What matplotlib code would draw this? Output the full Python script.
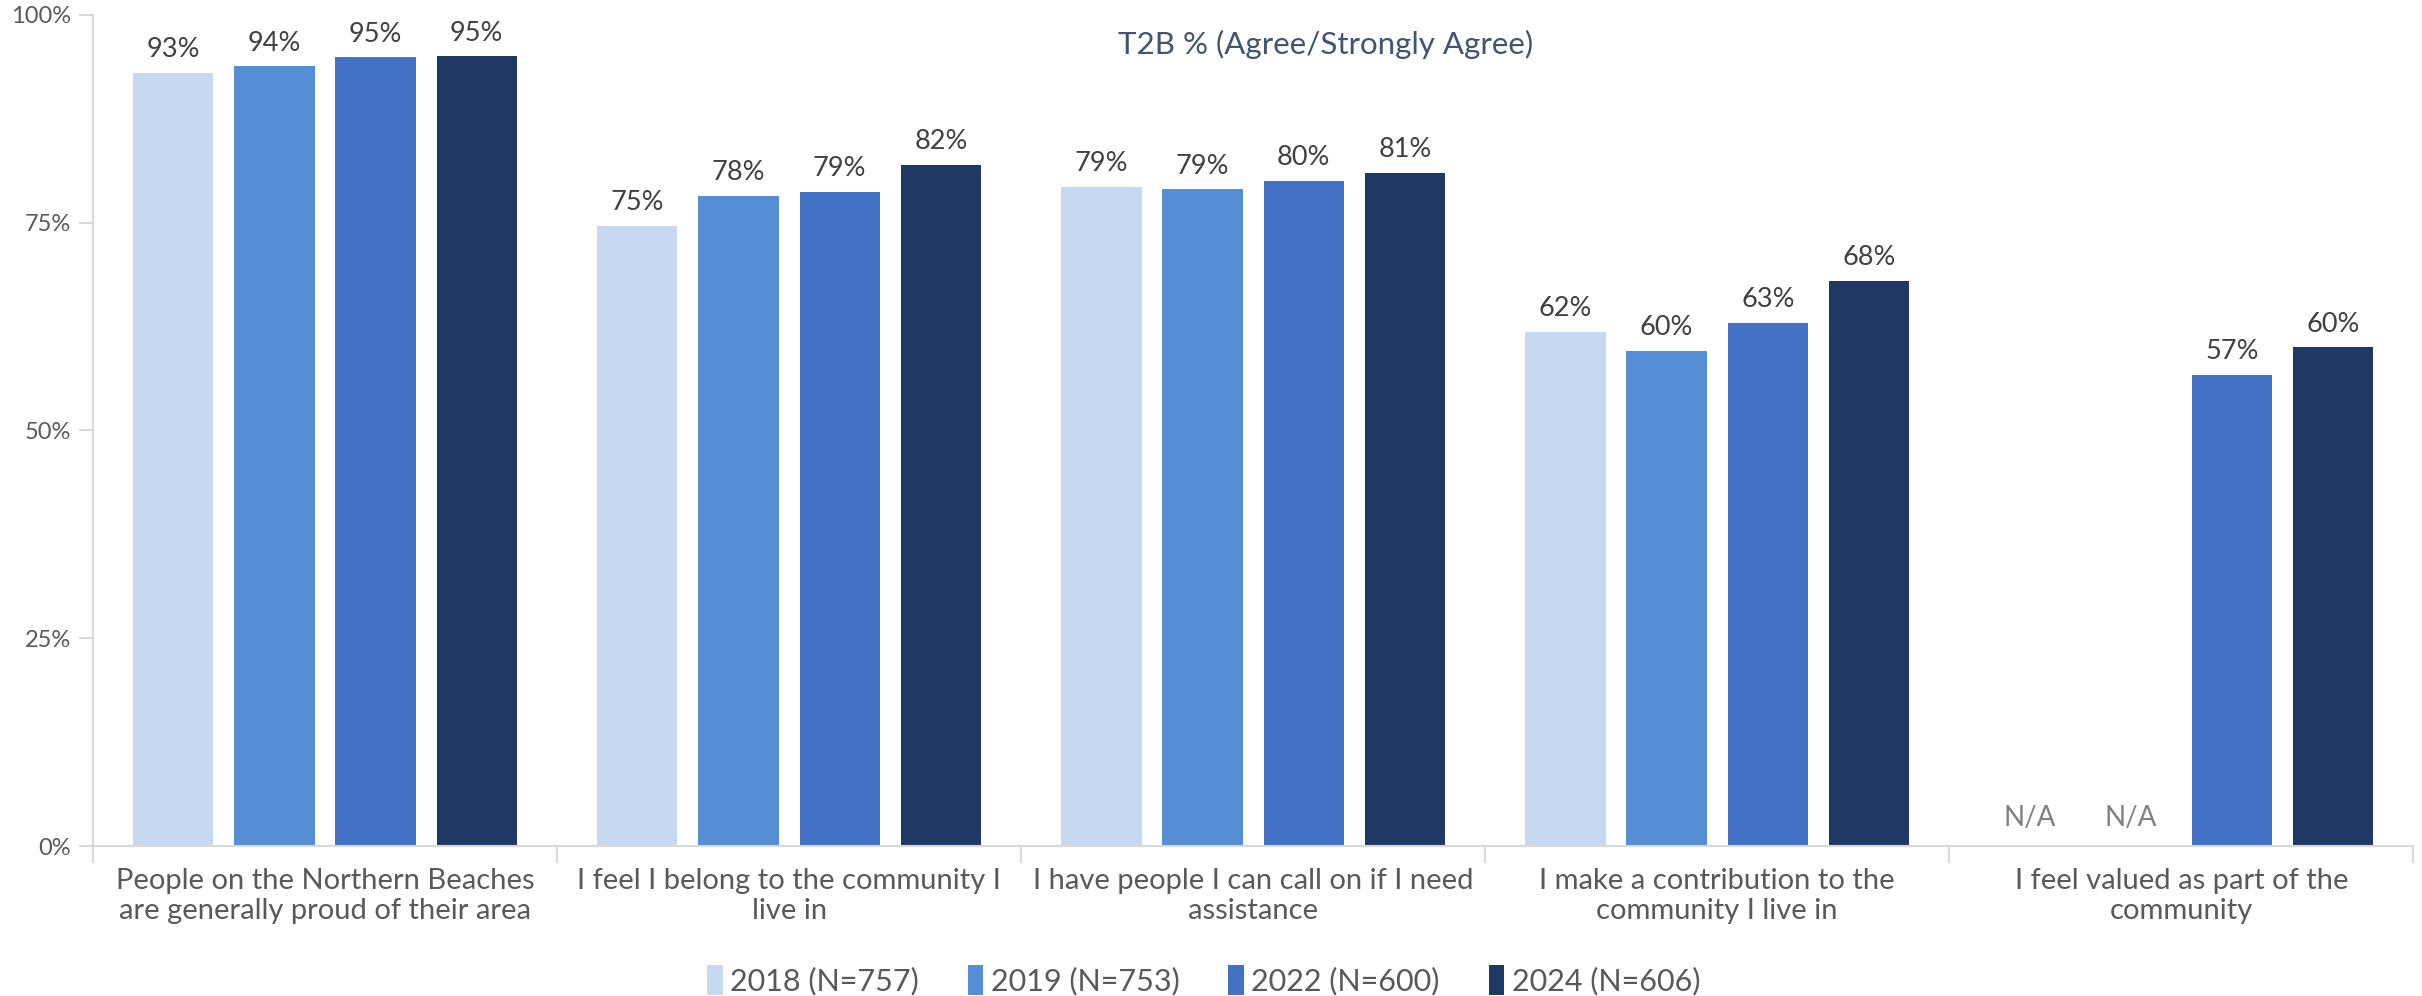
import matplotlib.pyplot as plt
import numpy as np
from matplotlib.patches import Patch

plt.rcParams['font.family'] = ['Lato', 'DejaVu Sans']

# Data
categories = [
    'People on the Northern Beaches\nare generally proud of their area',
    'I feel I belong to the community I\nlive in',
    'I have people I can call on if I need\nassistance',
    'I make a contribution to the\ncommunity I live in',
    'I feel valued as part of the\ncommunity',
]
series_names = ['2018 (N=757)', '2019 (N=753)', '2022 (N=600)', '2024 (N=606)']
vals_2018 = [93.0, 74.6, 79.3, 61.9, np.nan]
vals_2019 = [93.8, 78.2, 79.0, 59.6, np.nan]
vals_2022 = [94.9, 78.7, 80.0, 62.9, 56.7]
vals_2024 = [95.0, 82.0, 81.0, 68.0, 60.0]
colors = ['#C6D9F0', '#558ED5', '#4472C4', '#203864']

all_vals = [vals_2018, vals_2019, vals_2022, vals_2024]

fig = plt.figure(figsize=(24.22, 9.96), dpi=100)
ax = fig.add_axes([0.0384, 0.1506, 0.958, 0.8344])

x = np.arange(len(categories))
bar_w = 0.173
step = 0.218
offsets = (np.arange(4) - 1.5) * step

for i, (vals, col) in enumerate(zip(all_vals, colors)):
    v = np.array(vals, dtype=float)
    pos = x + offsets[i]
    ax.bar(pos, np.nan_to_num(v), width=bar_w, color=col, zorder=2)
    for xp, val in zip(pos, v):
        if np.isnan(val):
            ax.text(xp, 1.8, 'N/A', ha='center', va='bottom', fontsize=20,
                    color='#808080')
        else:
            ax.text(xp, val + 1.3, f'{round(val):.0f}%', ha='center', va='bottom',
                    fontsize=19.5, color='#404040')

ax.set_xlim(-0.5, len(categories) - 0.5)
ax.set_ylim(0, 100)
ax.set_yticks([0, 25, 50, 75, 100])
ax.set_yticklabels(['0%', '25%', '50%', '75%', '100%'])

# category labels centred, ticks on group boundaries
ax.set_xticks(np.arange(len(categories) + 1) - 0.5)
ax.set_xticklabels([])
ax.set_xticks(x, minor=True)
ax.set_xticklabels(categories, minor=True, fontsize=21, color='#595959',
                   linespacing=1.2)
ax.tick_params(axis='x', which='minor', length=0, pad=16)
ax.tick_params(axis='x', which='major', length=12, color='#D9D9D9', width=1.5)
ax.tick_params(axis='y', length=10, color='#D9D9D9', width=1.5,
               labelsize=17, labelcolor='#595959', pad=6)

for s in ['top', 'right']:
    ax.spines[s].set_visible(False)
for s in ['left', 'bottom']:
    ax.spines[s].set_color('#D9D9D9')
    ax.spines[s].set_linewidth(1.5)

ax.text(0.531, 0.982, 'T2B % (Agree/Strongly Agree)', transform=ax.transAxes,
        ha='center', va='top', fontsize=22.5, color='#44546A')

handles = [Patch(facecolor=c, edgecolor='none') for c in colors]
fig.legend(handles, series_names, loc='lower center', ncol=4, frameon=False,
           fontsize=22, labelcolor='#595959', handlelength=0.5,
           handleheight=1.1, handletextpad=0.25, columnspacing=1.6,
           bbox_to_anchor=(0.497, -0.027))

fig.savefig('out.png', dpi=100, facecolor='white')
